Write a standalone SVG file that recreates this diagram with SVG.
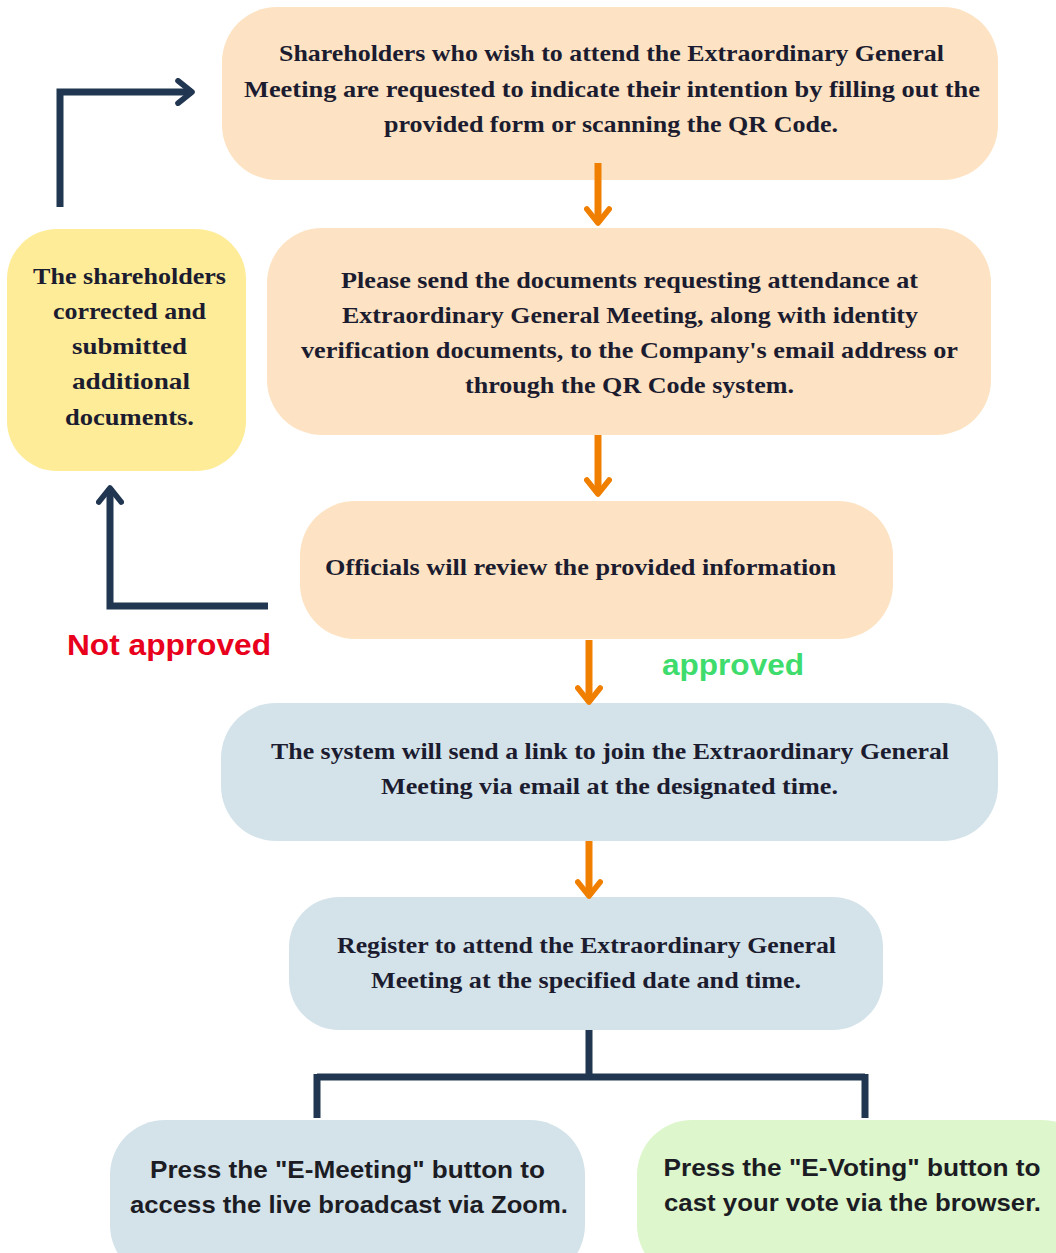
<svg xmlns="http://www.w3.org/2000/svg" width="1056" height="1253" viewBox="0 0 1056 1253">
<defs>
<marker id="navyHead" viewBox="0 0 10 10" refX="7" refY="5" markerWidth="4" markerHeight="4" orient="auto" markerUnits="strokeWidth">
<path d="M2,1 L7,5 L2,9" fill="none" stroke="#213651" stroke-width="2" stroke-linecap="round" stroke-linejoin="round"/>
</marker>
<marker id="orangeHead" viewBox="0 0 10 10" refX="7" refY="5" markerWidth="4" markerHeight="4" orient="auto" markerUnits="strokeWidth">
<path d="M2,1 L7,5 L2,9" fill="none" stroke="#F07F00" stroke-width="2" stroke-linecap="round" stroke-linejoin="round"/>
</marker>
</defs>
<style>
.peach{fill:#FDE3C3}
.yellow{fill:#FEEC99}
.blue{fill:#D4E3EA}
.green{fill:#DDF6CB}
.serif{font-family:"Liberation Serif","DejaVu Serif",serif;font-weight:bold;font-size:24px;fill:#1C1C30;text-anchor:middle}
.sans{font-family:"Liberation Sans",Arial,sans-serif;font-weight:bold;font-size:24px;fill:#1C1C24;text-anchor:middle}
.navy{fill:none;stroke:#213651;stroke-width:7}
.orange{fill:none;stroke:#F07F00;stroke-width:7}
.lbl{font-family:"Liberation Sans",Arial,sans-serif;font-weight:bold;font-size:30px}
</style>
<rect width="1056" height="1253" fill="#FFFFFF"/>

<g id="node-intent">
<rect class="peach" x="222" y="7" width="776" height="173" rx="55"/>
<text class="serif" x="611.5" y="61" textLength="665" lengthAdjust="spacingAndGlyphs">Shareholders who wish to attend the Extraordinary General</text>
<text class="serif" x="612" y="97" textLength="736" lengthAdjust="spacingAndGlyphs">Meeting are requested to indicate their intention by filling out the</text>
<text class="serif" x="611" y="132" textLength="454" lengthAdjust="spacingAndGlyphs">provided form or scanning the QR Code.</text>
</g>

<g id="node-corrected">
<rect class="yellow" x="7" y="229" width="239" height="242" rx="50"/>
<text class="serif" x="129.5" y="284" textLength="193" lengthAdjust="spacingAndGlyphs">The shareholders</text>
<text class="serif" x="129.5" y="319" textLength="153" lengthAdjust="spacingAndGlyphs">corrected and</text>
<text class="serif" x="129.5" y="354" textLength="115" lengthAdjust="spacingAndGlyphs">submitted</text>
<text class="serif" x="131" y="389" textLength="118" lengthAdjust="spacingAndGlyphs">additional</text>
<text class="serif" x="129.5" y="425" textLength="129" lengthAdjust="spacingAndGlyphs">documents.</text>
</g>

<g id="node-send">
<rect class="peach" x="267" y="228" width="724" height="207" rx="55"/>
<text class="serif" x="629.5" y="288" textLength="577" lengthAdjust="spacingAndGlyphs">Please send the documents requesting attendance at</text>
<text class="serif" x="630" y="323" textLength="576" lengthAdjust="spacingAndGlyphs">Extraordinary General Meeting, along with identity</text>
<text class="serif" x="629.5" y="358" textLength="657" lengthAdjust="spacingAndGlyphs">verification documents, to the Company's email address or</text>
<text class="serif" x="629.5" y="393" textLength="329" lengthAdjust="spacingAndGlyphs">through the QR Code system.</text>
</g>

<g id="node-review">
<rect class="peach" x="300" y="501" width="593" height="138" rx="55"/>
<text class="serif" x="580.5" y="575" textLength="511" lengthAdjust="spacingAndGlyphs">Officials will review the provided information</text>
</g>

<g id="node-link">
<rect class="blue" x="221" y="703" width="777" height="138" rx="55"/>
<text class="serif" x="610" y="759" textLength="678" lengthAdjust="spacingAndGlyphs">The system will send a link to join the Extraordinary General</text>
<text class="serif" x="609.5" y="794" textLength="457" lengthAdjust="spacingAndGlyphs">Meeting via email at the designated time.</text>
</g>

<g id="node-register">
<rect class="blue" x="289" y="897" width="594" height="133" rx="50"/>
<text class="serif" x="586.5" y="953" textLength="499" lengthAdjust="spacingAndGlyphs">Register to attend the Extraordinary General</text>
<text class="serif" x="586" y="988" textLength="430" lengthAdjust="spacingAndGlyphs">Meeting at the specified date and time.</text>
</g>

<g id="node-emeeting">
<rect class="blue" x="110" y="1120" width="475" height="160" rx="55"/>
<text class="sans" x="347.5" y="1178" textLength="395" lengthAdjust="spacingAndGlyphs">Press the "E-Meeting" button to</text>
<text class="sans" x="349" y="1213" textLength="438" lengthAdjust="spacingAndGlyphs">access the live broadcast via Zoom.</text>
</g>

<g id="node-evoting">
<rect class="green" x="637" y="1120" width="460" height="160" rx="55"/>
<text class="sans" x="852" y="1176" textLength="377" lengthAdjust="spacingAndGlyphs">Press the "E-Voting" button to</text>
<text class="sans" x="852.5" y="1211" textLength="377" lengthAdjust="spacingAndGlyphs">cast your vote via the browser.</text>
</g>

<g id="connectors">
<path class="navy" d="M60,207 V92 H192" marker-end="url(#navyHead)"/>
<path class="navy" d="M268,606 H110 V488" marker-end="url(#navyHead)"/>
<path class="navy" d="M589,1030 V1077 M317,1077 H865 M317,1074 V1118 M865,1074 V1118"/>
<path class="orange" d="M598,163 V223" marker-end="url(#orangeHead)"/>
<path class="orange" d="M598,435 V494" marker-end="url(#orangeHead)"/>
<path class="orange" d="M589,640 V702" marker-end="url(#orangeHead)"/>
<path class="orange" d="M589,841 V896" marker-end="url(#orangeHead)"/>
<text class="lbl" x="67" y="655" fill="#E8001C" textLength="204" lengthAdjust="spacingAndGlyphs">Not approved</text>
<text class="lbl" x="662" y="675" fill="#3EDC6C" textLength="142" lengthAdjust="spacingAndGlyphs">approved</text>
</g>
</svg>
